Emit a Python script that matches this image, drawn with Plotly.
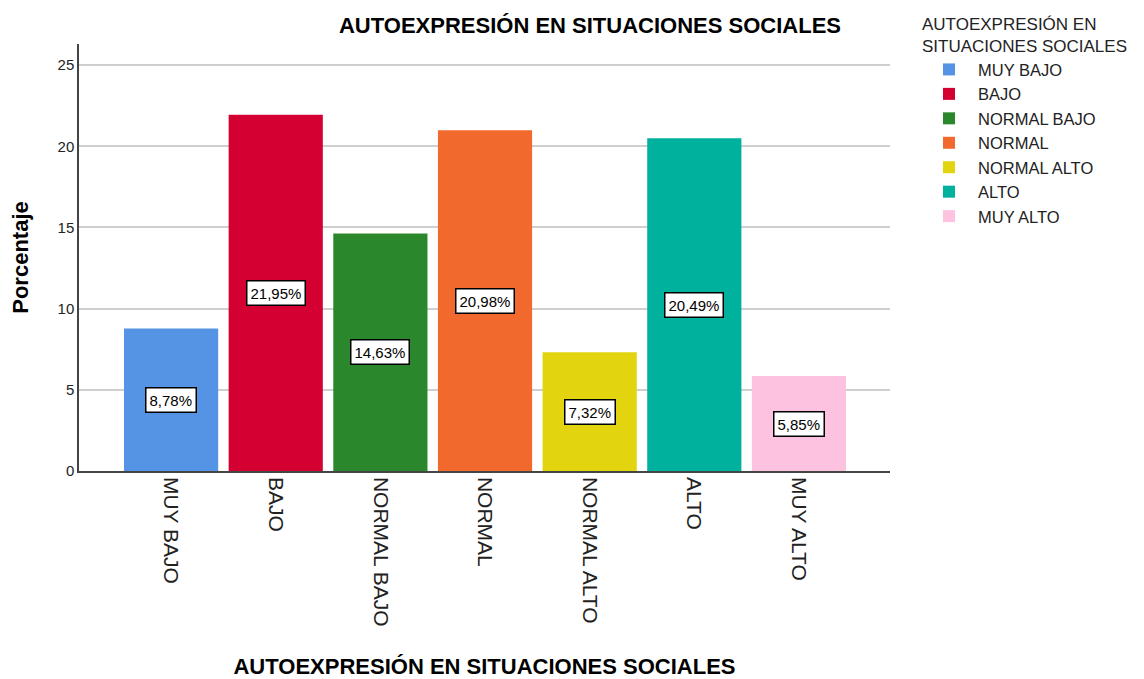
import plotly.graph_objects as go

categories = ["MUY BAJO", "BAJO", "NORMAL BAJO", "NORMAL", "NORMAL ALTO", "ALTO", "MUY ALTO"]
values = [8.78, 21.95, 14.63, 20.98, 7.32, 20.49, 5.85]
labels = ["8,78%", "21,95%", "14,63%", "20,98%", "7,32%", "20,49%", "5,85%"]
colors = ["#5594E4", "#D50032", "#2A872B", "#F1692C", "#E2D510", "#00B29D", "#FCC2E0"]
y_ticks = [0, 5, 10, 15, 20, 25]

FONT = "Liberation Sans, Arial, sans-serif"
W, H = 1136, 671  # page body has an 8px margin

fig = go.Figure()
for cat, val, col in zip(categories, values, colors):
    fig.add_trace(go.Bar(x=[cat], y=[val], name=cat, marker=dict(color=col, line=dict(width=0)),
                         width=0.9, hoverinfo="x+y"))

for cat, val, lab in zip(categories, values, labels):
    fig.add_annotation(x=cat, y=val / 2, text=lab, showarrow=False,
                       font=dict(family=FONT, size=15, color="black"),
                       bgcolor="white", bordercolor="black", borderwidth=1.5, borderpad=3)

fig.update_layout(
    width=W, height=H,
    paper_bgcolor="white", plot_bgcolor="white",
    barmode="overlay",
    margin=dict(l=71, r=W - 882, t=36, b=H - 463, autoexpand=False),
    font=dict(family=FONT, color="#222222"),
    title=dict(text="<b>AUTOEXPRESIÓN EN SITUACIONES SOCIALES</b>",
               x=582 / W, xanchor="center", xref="container",
               y=1 - 17 / H, yanchor="middle", yref="container",
               font=dict(family=FONT, size=22, color="black")),
    legend=dict(title=dict(text="AUTOEXPRESIÓN EN<br>SITUACIONES SOCIALES", side="top center",
                           font=dict(family=FONT, size=17, color="#222222")),
                font=dict(family=FONT, size=16.5, color="#222222"),
                xref="container", yref="container",
                x=912 / W, xanchor="left", y=1 - 0 / H, yanchor="top",
                bgcolor="rgba(0,0,0,0)", tracegroupgap=0, itemwidth=48),
    xaxis=dict(categoryorder="array", categoryarray=categories,
               range=[-0.88, 6.87], tickangle=90,
               tickfont=dict(family=FONT, size=21, color="#222222"),
               showline=True, linecolor="#444444", linewidth=1.5,
               showgrid=False, ticks="", automargin=False,
               title=dict(text="<b>AUTOEXPRESIÓN EN SITUACIONES SOCIALES</b>", standoff=38,
                          font=dict(family=FONT, size=22, color="black"))),
    yaxis=dict(range=[0, 26.3], tickvals=y_ticks, ticktext=[str(v) for v in y_ticks],
               tickfont=dict(family=FONT, size=15, color="#222222"),
               showline=True, linecolor="#444444", linewidth=1.5,
               showgrid=True, gridcolor="#CFCFCF", gridwidth=1.5,
               zeroline=False, ticks="", automargin=False,
               title=dict(text="<b>Porcentaje</b>", standoff=23,
                          font=dict(family=FONT, size=22, color="black"))),
)

fig.write_html("out.html")
